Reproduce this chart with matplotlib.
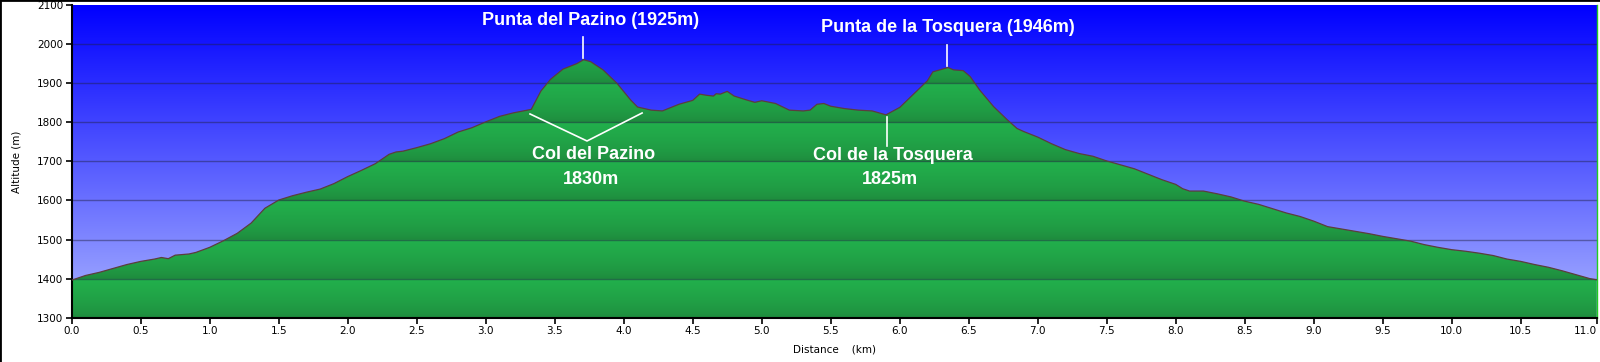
import numpy as np
import matplotlib
matplotlib.use('Agg')
import matplotlib.pyplot as plt
from matplotlib.patches import Polygon

# profile (km, m)
dist = [0.0, 0.1, 0.2, 0.3, 0.4, 0.5, 0.6, 0.65, 0.7, 0.75, 0.85, 0.9, 1.0, 1.1, 1.2,
        1.3, 1.4, 1.5, 1.6, 1.7, 1.8, 1.9, 2.0, 2.1, 2.2, 2.3, 2.35, 2.4, 2.5, 2.6,
        2.7, 2.8, 2.9, 3.0, 3.1, 3.2, 3.3, 3.33, 3.4, 3.47, 3.56, 3.66, 3.71, 3.76, 3.85,
        3.95, 4.05, 4.1, 4.2, 4.28, 4.4, 4.5, 4.55, 4.6, 4.65, 4.67, 4.7, 4.75, 4.8,
        4.9, 4.95, 5.0, 5.1, 5.2, 5.3, 5.35, 5.4, 5.45, 5.5, 5.6, 5.7, 5.8, 5.9,
        6.0, 6.1, 6.2, 6.24, 6.29, 6.35, 6.39, 6.46, 6.51, 6.58, 6.68, 6.78, 6.85, 6.9, 7.0,
        7.1, 7.2, 7.3, 7.4, 7.5, 7.6, 7.7, 7.8, 7.9, 8.0, 8.05, 8.1, 8.2, 8.3, 8.4,
        8.5, 8.6, 8.7, 8.8, 8.9, 9.0, 9.1, 9.2, 9.3, 9.4, 9.5, 9.6, 9.7, 9.8, 9.9,
        10.0, 10.1, 10.2, 10.3, 10.4, 10.5, 10.6, 10.7, 10.8, 10.9, 11.0, 11.05]
alt = [1396, 1408, 1416, 1426, 1436, 1444, 1450, 1454, 1451, 1460, 1463, 1467, 1480, 1497, 1516,
       1542, 1580, 1601, 1612, 1621, 1629, 1643, 1661, 1677, 1694, 1718, 1724, 1726, 1735, 1745,
       1758, 1775, 1786, 1801, 1815, 1824, 1831, 1833, 1880, 1910, 1936, 1950, 1960, 1955, 1934,
       1900, 1857, 1839, 1831, 1829, 1846, 1856, 1872, 1869, 1867, 1873, 1872, 1879, 1867,
       1856, 1851, 1855, 1848, 1831, 1829, 1831, 1846, 1848, 1841, 1835, 1831, 1829, 1819,
       1838, 1872, 1906, 1929, 1934, 1940, 1934, 1932, 1917, 1882, 1840, 1806, 1784, 1776, 1762,
       1745, 1730, 1720, 1713, 1701, 1691, 1681, 1667, 1653, 1641, 1630, 1624, 1624, 1617, 1609,
       1598, 1590, 1579, 1568, 1559, 1547, 1533, 1527, 1521, 1515, 1508, 1502, 1496, 1487, 1480,
       1474, 1470, 1465, 1459, 1450, 1444, 1436, 1429, 1420, 1410, 1400, 1397]

x_ticks = [0.0, 0.5, 1.0, 1.5, 2.0, 2.5, 3.0, 3.5, 4.0, 4.5, 5.0, 5.5, 6.0, 6.5, 7.0,
           7.5, 8.0, 8.5, 9.0, 9.5, 10.0, 10.5, 11.0]
y_ticks = [1300, 1400, 1500, 1600, 1700, 1800, 1900, 2000, 2100]

ymin, ymax = 1300, 2100
xmax = dist[-1]

fig = plt.figure(figsize=(16, 3.62), dpi=100)
ax = fig.add_axes([71.7 / 1600, 1 - 317.7 / 362, 1525 / 1600, 312.7 / 362])

# blue sky gradient
t = np.linspace(0, 1, 400)[:, None]
top = np.array([0, 0, 255]) / 255
bot = np.array([170, 180, 255]) / 255
sky = (bot + (top - bot) * t)[:, None, :]
ax.imshow(sky, extent=[0, xmax, ymin, ymax], aspect='auto', origin='lower', zorder=0)

# green ground with banded shading every 100 m
h = np.linspace(ymin, ymax, 1600)
f = (h % 100) / 100.0
dark = np.array([30, 135, 60]) / 255
bright = np.array([34, 176, 76]) / 255
g = dark + (bright - dark) * (f[:, None] ** 0.6)
ground = g[:, None, :]
verts = [(dist[0], ymin)] + list(zip(dist, alt)) + [(dist[-1], ymin)]
poly = Polygon(verts, closed=True, facecolor='none', edgecolor='none')
ax.add_patch(poly)
im = ax.imshow(ground, extent=[0, xmax, ymin, ymax], aspect='auto', origin='lower', zorder=1)
im.set_clip_path(poly)

ax.hlines(y_ticks[1:-1], 0, xmax, colors='#202040', alpha=0.45, lw=1, zorder=2)
ax.plot(dist, alt, color='#5c3d3d', lw=0.9, zorder=3)

ax.set_xlim(0, xmax)
ax.set_ylim(ymin, ymax)

xt = x_ticks[:-1] + [xmax]
ax.set_xticks(xt)
ax.set_xticklabels(['%.1f' % v for v in x_ticks], fontsize=7.5)
ax.get_xticklabels()[-1].set_ha('right')
ax.set_yticks(y_ticks)
ax.set_yticklabels([str(v) for v in y_ticks], fontsize=7.5)
ax.tick_params(direction='out', length=4, width=1.2, pad=2)

ax.set_xlabel('Distance    (km)', fontsize=7.5, labelpad=6)
ax.set_ylabel('Altitude (m)', fontsize=7.5, labelpad=11)

ax.spines['top'].set_visible(False)
ax.spines['right'].set_color('#22cc22')
ax.spines['right'].set_linewidth(1)
ax.spines['left'].set_linewidth(1.5)
ax.spines['bottom'].set_linewidth(1.5)

lab = dict(color='white', fontsize=13, fontweight='bold', family='Liberation Sans',
           ha='center', va='center', zorder=5)
ax.text(3.763, 2061.6, 'Punta del Pazino (1925m)', **lab)
ax.text(6.350, 2041.2, 'Punta de la Tosquera (1946m)', **lab)
ax.text(3.778, 1718.8, 'Col del Pazino', **lab)
ax.text(3.763, 1652.3, '1830m', **lab)
ax.text(5.951, 1713.7, 'Col de la Tosquera', **lab)
ax.text(5.929, 1652.3, '1825m', **lab)

ln = dict(color='white', lw=1.2, zorder=5)
ax.plot([3.705, 3.705], [2018.1, 1964.4], **ln)
ax.plot([3.321, 3.734, 4.133], [1821.2, 1752.1, 1823.7], **ln)
ax.plot([6.343, 6.343], [1997.7, 1944.0], **ln)
ax.plot([5.908, 5.908], [1813.5, 1739.3], **ln)

fig.add_artist(plt.Line2D([0, 0], [0, 1], color='black', lw=2, transform=fig.transFigure))
fig.add_artist(plt.Line2D([0, 1], [1, 1], color='black', lw=2, transform=fig.transFigure))

fig.savefig('out.png', dpi=100)
